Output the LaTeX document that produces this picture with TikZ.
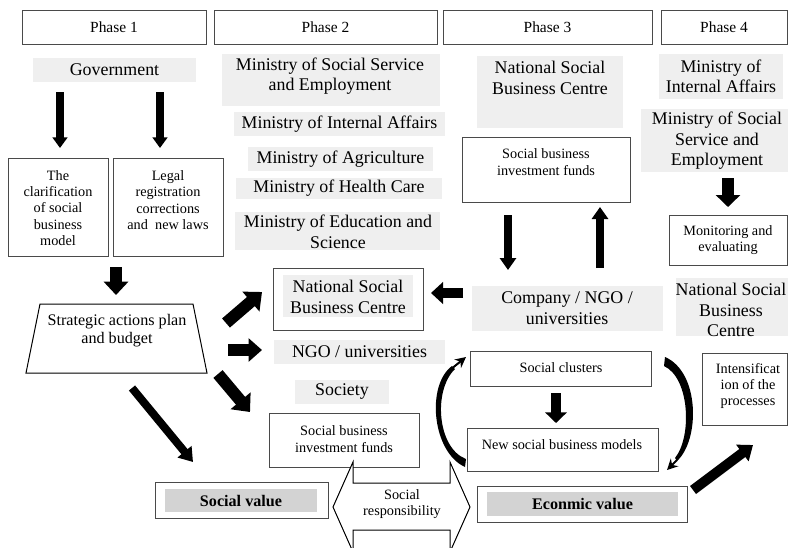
\documentclass[tikz,border=0pt]{standalone}
\usepackage{fontspec}
\setmainfont{Liberation Serif}
\usetikzlibrary{arrows.meta,fit,calc}
\definecolor{lgray}{HTML}{EFEFEF}
\definecolor{dgray}{HTML}{D3D3D3}
\definecolor{edgec}{HTML}{4A4A4A}
\begin{document}
\begin{tikzpicture}[x=0.75pt,y=-0.75pt,
  bigf/.style={font=\fontsize{13.4}{15.4}\selectfont, align=center, inner sep=0},
  medf/.style={font=\fontsize{12.1}{13.5}\selectfont, align=center, inner sep=0},
  smallf/.style={font=\fontsize{10.7}{12.3}\selectfont, align=center, inner sep=0},
  phasef/.style={font=\fontsize{11.6}{13}\selectfont, inner sep=0},
  boldf/.style={font=\bfseries\fontsize{12.1}{14}\selectfont, inner sep=0},
  gbox/.style={fill=lgray, draw=none, inner sep=0},
  dbox/.style={fill=dgray, draw=none, inner sep=0},
  wbox/.style={draw=edgec, line width=0.75pt, fill=white, inner sep=0},
  fatarr/.style n args={3}{draw=black, line width=#1, -{Triangle[width=#2,length=#3]}},
  thinarr/.style={draw=black, line width=1.5pt, -{Stealth[length=8pt,width=8pt]}}
]
\useasboundingbox (0,0) rectangle (788,547);

% Phase headers
\node[wbox, fit={(22,10)(206,44)}] (ph1) {};
\node[wbox, fit={(214,10)(437,44)}] (ph2) {};
\node[wbox, fit={(443,10)(652,44)}] (ph3) {};
\node[wbox, fit={(661,10)(787,44)}] (ph4) {};
\node[phasef] (ph1t) at (ph1.center) {Phase 1};
\node[phasef] (ph2t) at (ph2.center) {Phase 2};
\node[phasef] (ph3t) at (ph3.center) {Phase 3};
\node[phasef] (ph4t) at (ph4.center) {Phase 4};

% Phase 1
\node[gbox, fit={(33,58)(196,82)}] (gov) {};
\node[bigf] (govt) at (gov.center) {Government};
\node[wbox, fit={(8,158)(108,256)}] (clar) {};
\node[smallf] (clart) at (58,208) {The\\clarification\\of social\\business\\model};
\node[wbox, fit={(113,158)(223,256)}] (legal) {};
\node[smallf] (legalt) at (168,200) {Legal\\registration\\corrections\\and\ \ new laws};
\coordinate (sap1) at (40,304); \coordinate (sap2) at (193,304);
\coordinate (sap3) at (207,373); \coordinate (sap4) at (26,373);
\draw[draw=black, line width=0.75pt, fill=white] (sap1) -- (sap2) -- (sap3) -- (sap4) -- cycle;
\node[medf] (sapt) at (117,331) {Strategic actions plan\\and budget};
\node[wbox, fit={(155,482)(328,518)}] (sv) {};
\node[dbox, fit={(165,489)(317,512)}] (svg) {};
\node[boldf] (svt) at (svg.center) {Social value};

% Phase 2
\node[gbox, fit={(222,54)(440,106)}] (msse2) {};
\node[bigf] (msse2t) at (330,76) {Ministry of Social Service\\and Employment};
\node[gbox, fit={(234,112)(445,136)}] (mia2) {};
\node[bigf] (mia2t) at (mia2.center) {Ministry of Internal Affairs};
\node[gbox, fit={(248,147)(433,171)}] (agr) {};
\node[bigf] (agrt) at (agr.center) {Ministry of Agriculture};
\node[gbox, fit={(236,178)(442,199)}] (hc) {};
\node[bigf] (hct) at (hc.center) {Ministry of Health Care};
\node[gbox, fit={(235,212)(440,250)}] (edu) {};
\node[bigf] (edut) at (338,232) {Ministry of Education and\\Science};
\node[wbox, fit={(273,268)(423,330)}] (nsbc2) {};
\node[gbox, fit={(283,275)(413,317)}] (nsbc2g) {};
\node[bigf] (nsbc2t) at (348,297) {National Social\\Business Centre};
\node[gbox, fit={(274,340)(445,364)}] (ngo2) {};
\node[bigf] (ngo2t) at (ngo2.center) {NGO / universities};
\node[gbox, fit={(295,380)(389,404)}] (soc) {};
\node[bigf] (soct) at (soc.center) {Society};
\node[wbox, fit={(269,413)(419,467)}] (sbif2) {};
\node[smallf] (sbif2t) at (344,439) {Social business\\investment funds};

% Phase 3
\node[gbox, fit={(477,56)(623,128)}] (nsbc3) {};
\node[bigf] (nsbc3t) at (550,78) {National Social\\Business Centre};
\node[wbox, fit={(462,137)(630,202)}] (sbif3) {};
\node[smallf] (sbif3t) at (546,162) {Social business\\investment funds};
\node[gbox, fit={(472,286)(663,331)}] (cnu) {};
\node[bigf] (cnut) at (567,308) {Company / NGO /\\universities};
\node[wbox, fit={(470,351)(651,386)}] (sc) {};
\node[smallf] (sct) at (561,368) {Social clusters};
\node[wbox, fit={(467,428)(658,471)}] (nsbm) {};
\node[smallf] (nsbmt) at (562,445) {New social business models};
\node[wbox, fit={(477,486)(687,522)}] (ev) {};
\node[dbox, fit={(487,492)(678,516)}] (evg) {};
\node[boldf] (evt) at (evg.center) {Econmic value};

% Phase 4
\node[gbox, fit={(659,54)(783,99)}] (mia4) {};
\node[bigf] (mia4t) at (721,76.5) {Ministry of\\Internal Affairs};
\node[gbox, fit={(641,109)(790,172)}] (msse4) {};
\node[bigf] (msse4t) at (717,141) {Ministry of Social\\Service and\\Employment};
\node[wbox, fit={(669,215)(787,265)}] (mon) {};
\node[smallf] (mont) at (728,240) {Monitoring and\\evaluating};
\node[gbox, fit={(676,278)(790,336)}] (nsbc4) {};
\node[bigf] (nsbc4t) at (731,310) {National Social\\Business\\Centre};
\node[wbox, fit={(702,353)(787,425)}] (intb) {};
\node[smallf] (intt) at (748,386) {Intensificat\\ion of the\\processes};

% Double arrow: social responsibility
\draw[draw=black, line width=0.75pt, fill=white] (333,507) -- (353,462) -- (353,483) -- (450,483) -- (450,462)
  -- (470,507) -- (450,552) -- (450,530) -- (353,530) -- (353,552) -- cycle;
\node[smallf] (sr) at (402,504) {Social\\responsibility};

% Straight fat arrows (named end points)
\coordinate (g1a) at (60,92);   \coordinate (g1b) at (60,148);
\coordinate (g2a) at (160,92);  \coordinate (g2b) at (160,148);
\coordinate (ta) at (116,267);  \coordinate (tb) at (116,295);
\coordinate (ura) at (226,323); \coordinate (urb) at (262,292);
\coordinate (ra) at (228,350);  \coordinate (rb) at (262,350);
\coordinate (dra) at (218,374); \coordinate (drb) at (250,412);
\coordinate (la) at (132,388);  \coordinate (lb) at (193,462);
\coordinate (d3a) at (508,215); \coordinate (d3b) at (508,270);
\coordinate (u3a) at (600,268); \coordinate (u3b) at (600,207);
\coordinate (l3a) at (463,293); \coordinate (l3b) at (431,293);
\coordinate (sca) at (556,393); \coordinate (scb) at (556,423);
\coordinate (d4a) at (728,178); \coordinate (d4b) at (728,207);
\coordinate (eia) at (693,490); \coordinate (eib) at (753,445);

\draw[fatarr={5.5pt}{11pt}{8pt}] (g1a) -- (g1b);
\draw[fatarr={5.5pt}{11pt}{8pt}] (g2a) -- (g2b);
\draw[fatarr={9pt}{18pt}{10pt}] (ta) -- (tb);
\draw[fatarr={9pt}{19pt}{11pt}] (ura) -- (urb);
\draw[fatarr={8.5pt}{17pt}{10pt}] (ra) -- (rb);
\draw[fatarr={9pt}{19pt}{11pt}] (dra) -- (drb);
\draw[fatarr={6pt}{13pt}{10pt}] (la) -- (lb);
\draw[fatarr={6pt}{12pt}{9pt}] (d3a) -- (d3b);
\draw[fatarr={6pt}{12pt}{9pt}] (u3a) -- (u3b);
\draw[fatarr={8pt}{16pt}{9pt}] (l3a) -- (l3b);
\draw[fatarr={8pt}{16pt}{8pt}] (sca) -- (scb);
\draw[fatarr={9pt}{18pt}{9pt}] (d4a) -- (d4b);
\draw[fatarr={7.5pt}{15pt}{10pt}] (eia) -- (eib);

% Curved tapered arrows
\fill[black] (465,467) .. controls (432,452) and (426,385) .. (452,366) -- (455,369)
  .. controls (433,390) and (437,448) .. (466,459) -- cycle;
\coordinate (lca) at (453,367.5); \coordinate (lcb) at (466,357);
\draw[thinarr] (lca) -- (lcb);
\fill[black] (665,357) .. controls (700,372) and (700,440) .. (677,461) -- (675,458)
  .. controls (692,437) and (690,378) .. (664,366) -- cycle;
\coordinate (rca) at (677,460); \coordinate (rcb) at (667,470);
\draw[thinarr] (rca) -- (rcb);
\end{tikzpicture}
\end{document}
